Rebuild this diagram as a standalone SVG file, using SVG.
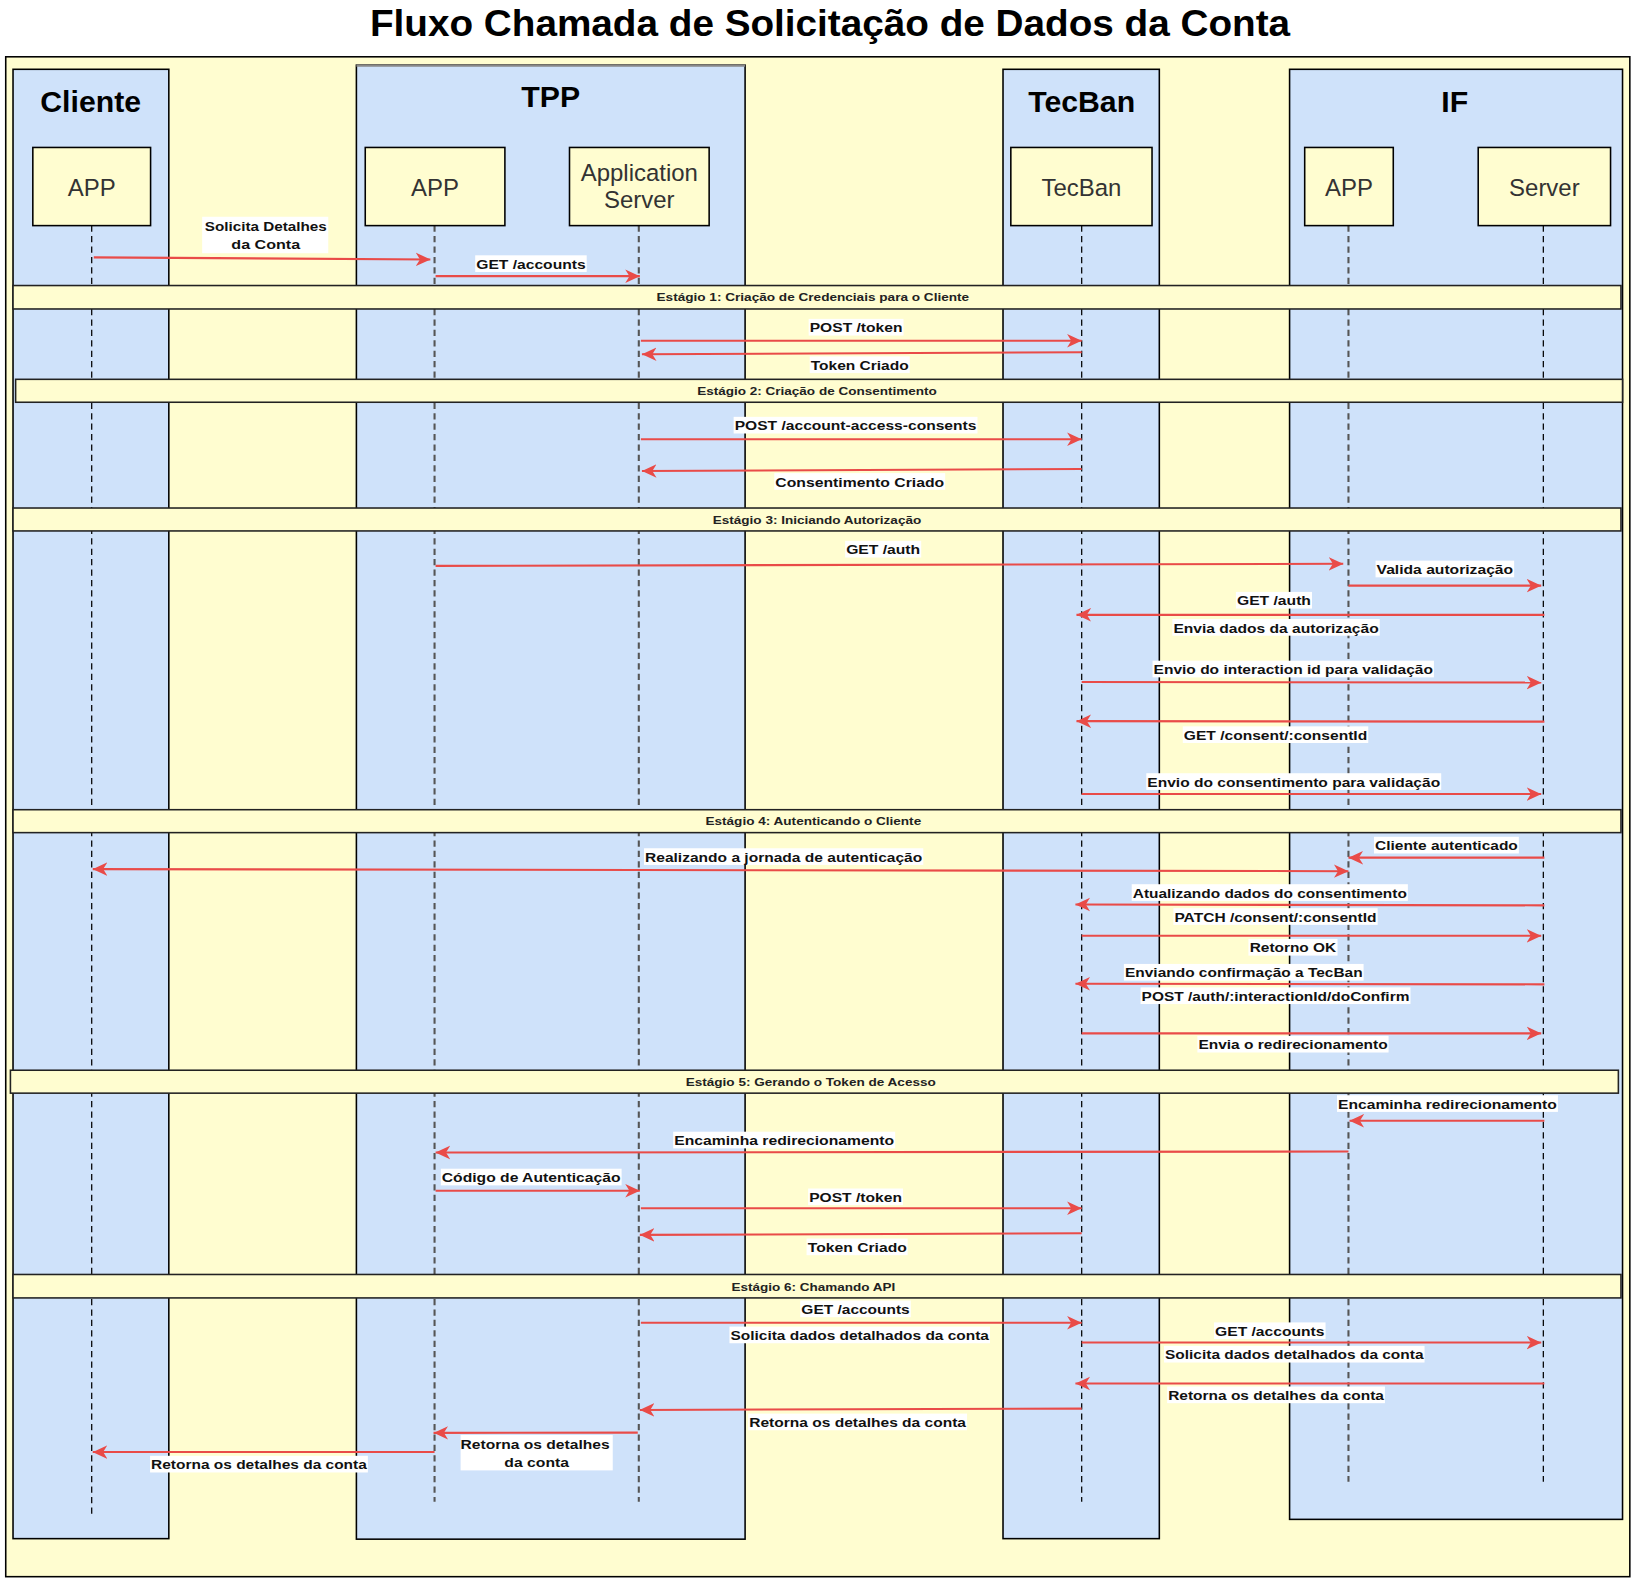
<svg xmlns="http://www.w3.org/2000/svg" width="1634" height="1582" viewBox="0 0 1634 1582">
<defs>
<style>
.bg{fill:#ffffff}
.outer{fill:#FFFDD0;stroke:#000;stroke-width:1.5}
.lane{fill:#CFE2FA;stroke:#000;stroke-width:1.5}
.box{fill:#FFFDD0;stroke:#000;stroke-width:1.5}
.stage{fill:#FFFDD0;stroke:#222;stroke-width:1.5}
.ll{stroke:#000;stroke-width:1.2;stroke-dasharray:6 4;fill:none}
.ll2{stroke:#555;stroke-width:2;stroke-dasharray:6 4;fill:none}
.msg{stroke:#E94B48;stroke-width:2;fill:none;marker-end:url(#arr)}
.both{marker-start:url(#arr)}
.lbg{fill:#ffffff}
.title{font-family:"Liberation Sans",Arial,sans-serif;font-size:36px;font-weight:bold;text-anchor:middle;fill:#000}
.hdr{font-family:"Liberation Sans",Arial,sans-serif;font-size:29px;font-weight:bold;text-anchor:middle;fill:#000}
.pt{font-family:"Liberation Sans",Arial,sans-serif;font-size:23px;text-anchor:middle;fill:#333}
.lbl{font-family:"Liberation Sans",Arial,sans-serif;font-size:13px;font-weight:bold;text-anchor:middle;fill:#111}
.stx{font-family:"Liberation Sans",Arial,sans-serif;font-size:11px;font-weight:bold;text-anchor:middle;fill:#222}
</style>
<marker id="arr" markerUnits="userSpaceOnUse" markerWidth="14" markerHeight="14" viewBox="0 0 14 14" refX="14" refY="7" orient="auto-start-reverse">
<path d="M0,0.5 L14,7 L0,13.5 L4,7 Z" fill="#E94B48"/>
</marker>
</defs>
<rect class="bg" x="0" y="0" width="1634" height="1582"/>
<g transform="scale(1.04209)">
<text id="title" class="title" x="796.5" y="34.5" textLength="883" lengthAdjust="spacingAndGlyphs">Fluxo Chamada de Solicitação de Dados da Conta</text>
<rect id="frame" class="outer" x="5.5" y="54.5" width="1558.5" height="1458.5"/>

<g id="lane-cliente"><rect class="lane" x="12.5" y="66.5" width="149.5" height="1410"/><text class="hdr" x="87" y="107.5">Cliente</text></g>
<g id="lane-tpp"><rect class="lane" x="342" y="62.5" width="373" height="1414.5"/><line x1="342" y1="63" x2="715" y2="63" stroke="#888" stroke-width="2"/><text class="hdr" x="528.5" y="103">TPP</text></g>
<g id="lane-tecban"><rect class="lane" x="962.5" y="66.5" width="150" height="1410"/><text class="hdr" x="1038" y="107.5">TecBan</text></g>
<g id="lane-if"><rect class="lane" x="1237.5" y="66.5" width="319.5" height="1391.5"/><text class="hdr" x="1396" y="107.5">IF</text></g>

<g id="lifelines">
<line class="ll" x1="88" y1="216.5" x2="88" y2="1456"/>
<line class="ll2" x1="417" y1="216.5" x2="417" y2="1441"/>
<line class="ll2" x1="613" y1="216.5" x2="613" y2="1441"/>
<line class="ll" x1="1038" y1="216.5" x2="1038" y2="1441"/>
<line class="ll2" x1="1294" y1="216.5" x2="1294" y2="1422"/>
<line class="ll" x1="1481" y1="216.5" x2="1481" y2="1422"/>
</g>

<g id="stage1"><rect class="stage" x="12.5" y="274" width="1543" height="22.5"/><text class="stx" x="780" y="289" textLength="300" lengthAdjust="spacingAndGlyphs">Estágio 1: Criação de Credenciais para o Cliente</text></g>
<g id="stage2"><rect class="stage" x="15" y="364" width="1542" height="22"/><text class="stx" x="784" y="379" textLength="230" lengthAdjust="spacingAndGlyphs">Estágio 2: Criação de Consentimento</text></g>
<g id="stage3"><rect class="stage" x="12.5" y="487.5" width="1543" height="22"/><text class="stx" x="784" y="502.5" textLength="200" lengthAdjust="spacingAndGlyphs">Estágio 3: Iniciando Autorização</text></g>
<g id="stage4"><rect class="stage" x="12.5" y="777" width="1543" height="22"/><text class="stx" x="780.5" y="792" textLength="207" lengthAdjust="spacingAndGlyphs">Estágio 4: Autenticando o Cliente</text></g>
<g id="stage5"><rect class="stage" x="10" y="1027" width="1543" height="22"/><text class="stx" x="778" y="1042" textLength="240" lengthAdjust="spacingAndGlyphs">Estágio 5: Gerando o Token de Acesso</text></g>
<g id="stage6"><rect class="stage" x="12.5" y="1223" width="1543" height="22.5"/><text class="stx" x="780.5" y="1238.5" textLength="157" lengthAdjust="spacingAndGlyphs">Estágio 6: Chamando API</text></g>

<g id="p-cliente-app"><rect class="box" x="31.5" y="141.5" width="113" height="75"/><text class="pt" x="88" y="188">APP</text></g>
<g id="p-tpp-app"><rect class="box" x="350.5" y="141.5" width="134" height="75"/><text class="pt" x="417.5" y="188">APP</text></g>
<g id="p-appserver"><rect class="box" x="546.5" y="141.5" width="134" height="75"/><text class="pt" x="613.5" y="174">Application</text><text class="pt" x="613.5" y="200">Server</text></g>
<g id="p-tecban"><rect class="box" x="970" y="141.5" width="135.5" height="75"/><text class="pt" x="1037.8" y="188">TecBan</text></g>
<g id="p-if-app"><rect class="box" x="1252" y="141.5" width="85" height="75"/><text class="pt" x="1294.5" y="188">APP</text></g>
<g id="p-if-server"><rect class="box" x="1418.5" y="141.5" width="127" height="75"/><text class="pt" x="1482" y="188">Server</text></g>

<g id="connectors">
<line class="msg" x1="90" y1="247" x2="413" y2="249"/>
<line class="msg" x1="418" y1="265" x2="614" y2="265"/>
<line class="msg" x1="615" y1="327" x2="1038" y2="327"/>
<line class="msg" x1="1038" y1="338" x2="616" y2="340"/>
<line class="msg" x1="615" y1="421.5" x2="1038" y2="421.5"/>
<line class="msg" x1="1038" y1="450" x2="616" y2="452"/>
<line class="msg" x1="418" y1="543" x2="1289" y2="541"/>
<line class="msg" x1="1294" y1="562" x2="1479" y2="562"/>
<line class="msg" x1="1482" y1="590" x2="1033" y2="590"/>
<line class="msg" x1="1038" y1="654.5" x2="1479" y2="655"/>
<line class="msg" x1="1482" y1="692.5" x2="1033" y2="692"/>
<line class="msg" x1="1038" y1="762" x2="1479" y2="762"/>
<line class="msg" x1="1482" y1="823" x2="1294" y2="823"/>
<line class="msg both" x1="89" y1="834" x2="1294" y2="836"/>
<line class="msg" x1="1482" y1="868.8" x2="1032" y2="868"/>
<line class="msg" x1="1038" y1="898" x2="1479" y2="898"/>
<line class="msg" x1="1482" y1="944.6" x2="1032" y2="944"/>
<line class="msg" x1="1038" y1="991.6" x2="1479" y2="991.6"/>
<line class="msg" x1="1482" y1="1075.5" x2="1295" y2="1075.5"/>
<line class="msg" x1="1294" y1="1105" x2="418" y2="1106"/>
<line class="msg" x1="418" y1="1142.6" x2="614" y2="1142.6"/>
<line class="msg" x1="615" y1="1159.5" x2="1038" y2="1159.5"/>
<line class="msg" x1="1038" y1="1183.5" x2="614" y2="1185"/>
<line class="msg" x1="615" y1="1269.3" x2="1038" y2="1269.3"/>
<line class="msg" x1="1038" y1="1288.3" x2="1479" y2="1288.3"/>
<line class="msg" x1="1482" y1="1327.6" x2="1032" y2="1327.6"/>
<line class="msg" x1="1038" y1="1351.7" x2="614" y2="1353"/>
<line class="msg" x1="612" y1="1374.8" x2="416" y2="1375"/>
<line class="msg" x1="417" y1="1393.4" x2="89" y2="1393.4"/>
</g>

<g id="labels">
<rect class="lbg" x="194" y="208" width="121" height="35"/>
<text class="lbl" x="255" y="222" textLength="117" lengthAdjust="spacingAndGlyphs">Solicita Detalhes</text>
<text class="lbl" x="255" y="239" textLength="66" lengthAdjust="spacingAndGlyphs">da Conta</text>

<rect class="lbg" x="456" y="245" width="107" height="16"/>
<text class="lbl" x="509.5" y="258" textLength="105" lengthAdjust="spacingAndGlyphs">GET /accounts</text>

<rect class="lbg" x="776" y="306" width="91" height="16"/>
<text class="lbl" x="821.5" y="319" textLength="89" lengthAdjust="spacingAndGlyphs">POST /token</text>

<rect class="lbg" x="777" y="342" width="96" height="16"/>
<text class="lbl" x="825" y="355" textLength="94" lengthAdjust="spacingAndGlyphs">Token Criado</text>

<rect class="lbg" x="704" y="400" width="234" height="16"/>
<text class="lbl" x="821" y="413" textLength="232" lengthAdjust="spacingAndGlyphs">POST /account-access-consents</text>

<rect class="lbg" x="743" y="454" width="164" height="16"/>
<text class="lbl" x="825" y="467" textLength="162" lengthAdjust="spacingAndGlyphs">Consentimento Criado</text>

<rect class="lbg" x="811" y="519" width="73" height="16"/>
<text class="lbl" x="847.5" y="532" textLength="71" lengthAdjust="spacingAndGlyphs">GET /auth</text>

<rect class="lbg" x="1320" y="538" width="133" height="16"/>
<text class="lbl" x="1386.5" y="551" textLength="131" lengthAdjust="spacingAndGlyphs">Valida autorização</text>

<rect class="lbg" x="1186" y="568" width="73" height="16"/>
<text class="lbl" x="1222.5" y="581" textLength="71" lengthAdjust="spacingAndGlyphs">GET /auth</text>

<rect class="lbg" x="1125" y="594" width="199" height="16"/>
<text class="lbl" x="1224.5" y="607" textLength="197" lengthAdjust="spacingAndGlyphs">Envia dados da autorização</text>

<rect class="lbg" x="1106" y="634" width="270" height="16"/>
<text class="lbl" x="1241" y="647" textLength="268" lengthAdjust="spacingAndGlyphs">Envio do interaction id para validação</text>

<rect class="lbg" x="1135" y="697" width="178" height="16"/>
<text class="lbl" x="1224" y="710" textLength="176" lengthAdjust="spacingAndGlyphs">GET /consent/:consentId</text>

<rect class="lbg" x="1100" y="742" width="283" height="16"/>
<text class="lbl" x="1241.5" y="755" textLength="281" lengthAdjust="spacingAndGlyphs">Envio do consentimento para validação</text>

<rect class="lbg" x="1318.5" y="803" width="139" height="16"/>
<text class="lbl" x="1388" y="816" textLength="137" lengthAdjust="spacingAndGlyphs">Cliente autenticado</text>

<rect class="lbg" x="618" y="814" width="268" height="16"/>
<text class="lbl" x="752" y="827" textLength="266" lengthAdjust="spacingAndGlyphs">Realizando a jornada de autenticação</text>

<rect class="lbg" x="1086" y="848.5" width="265" height="16"/>
<text class="lbl" x="1218.5" y="861.5" textLength="263" lengthAdjust="spacingAndGlyphs">Atualizando dados do consentimento</text>

<rect class="lbg" x="1126" y="871.5" width="196" height="16"/>
<text class="lbl" x="1224" y="884.5" textLength="194" lengthAdjust="spacingAndGlyphs">PATCH /consent/:consentId</text>

<rect class="lbg" x="1198" y="901" width="85.5" height="16"/>
<text class="lbl" x="1240.7" y="914" textLength="83" lengthAdjust="spacingAndGlyphs">Retorno OK</text>

<rect class="lbg" x="1078.5" y="925" width="230" height="16"/>
<text class="lbl" x="1193.6" y="938" textLength="228" lengthAdjust="spacingAndGlyphs">Enviando confirmação a TecBan</text>

<rect class="lbg" x="1094.5" y="947.5" width="259" height="16"/>
<text class="lbl" x="1224" y="960.5" textLength="257" lengthAdjust="spacingAndGlyphs">POST /auth/:interactionId/doConfirm</text>

<rect class="lbg" x="1149" y="994" width="183.5" height="16"/>
<text class="lbl" x="1240.8" y="1007" textLength="181.5" lengthAdjust="spacingAndGlyphs">Envia o redirecionamento</text>

<rect class="lbg" x="1283" y="1051" width="212" height="16"/>
<text class="lbl" x="1389" y="1064" textLength="210" lengthAdjust="spacingAndGlyphs">Encaminha redirecionamento</text>

<rect class="lbg" x="646" y="1086" width="213" height="16"/>
<text class="lbl" x="752.5" y="1099" textLength="211" lengthAdjust="spacingAndGlyphs">Encaminha redirecionamento</text>

<rect class="lbg" x="423" y="1121.5" width="173.5" height="16"/>
<text class="lbl" x="509.7" y="1134.5" textLength="171.5" lengthAdjust="spacingAndGlyphs">Código de Autenticação</text>

<rect class="lbg" x="775.5" y="1140.5" width="91" height="16"/>
<text class="lbl" x="821" y="1153.5" textLength="89" lengthAdjust="spacingAndGlyphs">POST /token</text>

<rect class="lbg" x="774" y="1188.5" width="97" height="16"/>
<text class="lbl" x="822.7" y="1201.5" textLength="95" lengthAdjust="spacingAndGlyphs">Token Criado</text>

<rect class="lbg" x="768" y="1248" width="106" height="16"/>
<text class="lbl" x="821" y="1261" textLength="104" lengthAdjust="spacingAndGlyphs">GET /accounts</text>

<rect class="lbg" x="700" y="1273" width="250" height="16"/>
<text class="lbl" x="825" y="1286" textLength="248" lengthAdjust="spacingAndGlyphs">Solicita dados detalhados da conta</text>

<rect class="lbg" x="1165" y="1269" width="107" height="16"/>
<text class="lbl" x="1218.5" y="1282" textLength="105" lengthAdjust="spacingAndGlyphs">GET /accounts</text>

<rect class="lbg" x="1117" y="1291.5" width="250" height="16"/>
<text class="lbl" x="1242" y="1304.5" textLength="248" lengthAdjust="spacingAndGlyphs">Solicita dados detalhados da conta</text>

<rect class="lbg" x="1120" y="1330.5" width="209" height="16"/>
<text class="lbl" x="1224.5" y="1343.5" textLength="207" lengthAdjust="spacingAndGlyphs">Retorna os detalhes da conta</text>

<rect class="lbg" x="718" y="1356.5" width="210" height="16"/>
<text class="lbl" x="823" y="1369.5" textLength="208" lengthAdjust="spacingAndGlyphs">Retorna os detalhes da conta</text>

<rect class="lbg" x="442" y="1377" width="146" height="34"/>
<text class="lbl" x="513.5" y="1390" textLength="143" lengthAdjust="spacingAndGlyphs">Retorna os detalhes</text>
<text class="lbl" x="515" y="1407.5" textLength="62" lengthAdjust="spacingAndGlyphs">da conta</text>

<rect class="lbg" x="144" y="1397" width="209" height="16"/>
<text class="lbl" x="248.5" y="1410" textLength="207" lengthAdjust="spacingAndGlyphs">Retorna os detalhes da conta</text>
</g>
</g>
</svg>
